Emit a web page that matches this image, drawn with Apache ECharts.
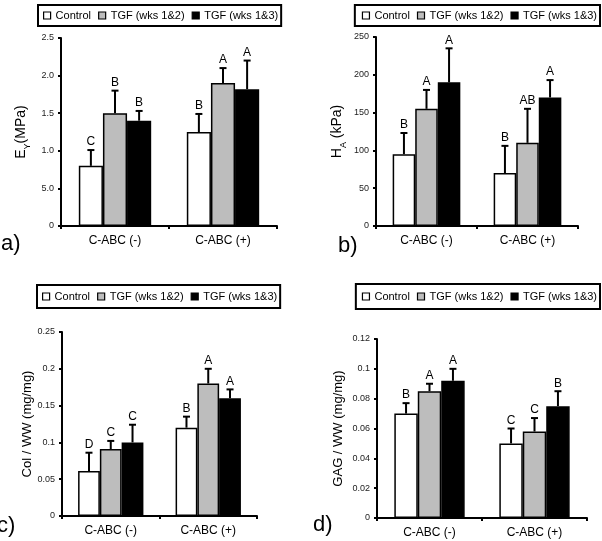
<!DOCTYPE html>
<html><head><meta charset="utf-8">
<script src="https://cdn.jsdelivr.net/npm/echarts@6/dist/echarts.min.js"></script>
<style>html,body{margin:0;padding:0;background:#fff}#c{width:602px;height:541px}</style>
</head><body><div id="c"></div>
<script>
// ---------- data ----------
const categories = ['C-ABC (-)', 'C-ABC (+)'];
const seriesNames = ['Control', 'TGF (wks 1&2)', 'TGF (wks 1&3)'];

// panel a) E_Y (MPa)
const aControl = [0.8, 1.25];
const aTgf12 = [1.5, 1.9];
const aTgf13 = [1.4, 1.82];
const aControlErr = [0.21, 0.24];
const aTgf12Err = [0.3, 0.2];
const aTgf13Err = [0.13, 0.38];
const aControlLetters = ['C', 'B'];
const aTgf12Letters = ['B', 'A'];
const aTgf13Letters = ['B', 'A'];
const aTicks = ['0', '5.0', '1.0', '1.5', '2.0', '2.5'];

// panel b) H_A (kPa)
const bControl = [95, 70];
const bTgf12 = [155, 110];
const bTgf13 = [190, 170];
const bControlErr = [28, 36];
const bTgf12Err = [25, 45];
const bTgf13Err = [45, 23];
const bControlLetters = ['B', 'B'];
const bTgf12Letters = ['A', 'AB'];
const bTgf13Letters = ['A', 'A'];
const bTicks = ['0', '50', '100', '150', '200', '250'];

// panel c) Col / WW (mg/mg)
const cControl = [0.061, 0.12];
const cTgf12 = [0.091, 0.18];
const cTgf13 = [0.1, 0.16];
const cControlErr = [0.025, 0.015];
const cTgf12Err = [0.011, 0.02];
const cTgf13Err = [0.024, 0.012];
const cControlLetters = ['D', 'B'];
const cTgf12Letters = ['C', 'A'];
const cTgf13Letters = ['C', 'A'];
const cTicks = ['0', '0.05', '0.1', '0.15', '0.2', '0.25'];

// panel d) GAG / WW (mg/mg)
const dControl = [0.07, 0.05];
const dTgf12 = [0.085, 0.058];
const dTgf13 = [0.092, 0.075];
const dControlErr = [0.007, 0.01];
const dTgf12Err = [0.005, 0.009];
const dTgf13Err = [0.008, 0.01];
const dControlLetters = ['B', 'C'];
const dTgf12Letters = ['A', 'C'];
const dTgf13Letters = ['A', 'B'];
const dTicks = ['0', '0.02', '0.04', '0.06', '0.08', '0.1', '0.12'];

// ---------- build ----------
const FONT = '"Liberation Sans", Arial, sans-serif';
const colors = ['#ffffff', '#bdbdbd', '#000000'];
const GAP = 0.33;

const panels = [
  { vals: [aControl, aTgf12, aTgf13], errs: [aControlErr, aTgf12Err, aTgf13Err],
    letters: [aControlLetters, aTgf12Letters, aTgf13Letters], ticks: aTicks, max: 2.5, interval: 0.5,
    name: '{n|E}{s|Y}{n|(MPa)}', nameSize: 14, nameGap: 29,
    grid: { left: 61, top: 38, width: 216, height: 188 },
    legend: { left: 38, top: 5, padding: [5, 3, 5, 5] },
    tag: { text: 'a)', x: 1, y: 246 } },
  { vals: [bControl, bTgf12, bTgf13], errs: [bControlErr, bTgf12Err, bTgf13Err],
    letters: [bControlLetters, bTgf12Letters, bTgf13Letters], ticks: bTicks, max: 250, interval: 50,
    name: '{n|H}{s|A}{n| (kPa)}', nameSize: 14, nameGap: 28,
    grid: { left: 376, top: 37, width: 202, height: 189 },
    legend: { right: 2, top: 5, padding: [5, 3, 5, 7] },
    tag: { text: 'b)', x: 338, y: 248 } },
  { vals: [cControl, cTgf12, cTgf13], errs: [cControlErr, cTgf12Err, cTgf13Err],
    letters: [cControlLetters, cTgf12Letters, cTgf13Letters], ticks: cTicks, max: 0.25, interval: 0.05,
    name: 'Col / WW (mg/mg)', nameSize: 13, nameGap: 24,
    grid: { left: 62, top: 332, width: 195, height: 184 },
    legend: { left: 37, top: 285, padding: [6, 3, 6, 5] },
    tag: { text: 'c)', x: -3, y: 528 } },
  { vals: [dControl, dTgf12, dTgf13], errs: [dControlErr, dTgf12Err, dTgf13Err],
    letters: [dControlLetters, dTgf12Letters, dTgf13Letters], ticks: dTicks, max: 0.12, interval: 0.02,
    name: 'GAG / WW (mg/mg)', nameSize: 13, nameGap: 32,
    grid: { left: 377, top: 339, width: 210, height: 179 },
    legend: { right: 2, top: 284, padding: [7, 3, 7, 6] },
    tag: { text: 'd)', x: 313, y: 527 } }
];

const option = {
  backgroundColor: '#fff',
  animation: false,
  textStyle: { fontFamily: FONT },
  grid: [], xAxis: [], yAxis: [], series: [], legend: [], graphic: []
};

panels.forEach((p, i) => {
  option.grid.push(Object.assign({ containLabel: false }, p.grid));
  option.xAxis.push({
    type: 'category', gridIndex: i, data: categories, boundaryGap: true,
    axisLine: { lineStyle: { color: '#000', width: 2 } },
    axisTick: { show: true, length: 3, lineStyle: { color: '#000', width: 2 } },
    axisLabel: { color: '#000', fontSize: 12, fontFamily: FONT, margin: 9 },
    splitLine: { show: false }
  });
  option.yAxis.push({
    type: 'value', gridIndex: i, min: 0, max: p.max, interval: p.interval,
    name: p.name, nameLocation: 'middle', nameGap: p.nameGap,
    nameTextStyle: {
      color: '#000', fontSize: p.nameSize, fontFamily: FONT,
      rich: {
        n: { fontSize: p.nameSize, fontFamily: FONT, color: '#000', padding: [0, 0, 4, 0] },
        s: { fontSize: 9, fontFamily: FONT, color: '#000', verticalAlign: 'bottom' }
      }
    },
    axisLine: { show: true, lineStyle: { color: '#000', width: 2 } },
    axisTick: { show: true, length: 3, lineStyle: { color: '#000', width: 2 } },
    axisLabel: {
      color: '#222', fontSize: 9, fontFamily: FONT, margin: 7,
      formatter: (v) => { const k = Math.round(v / p.interval); return p.ticks[k] !== undefined ? p.ticks[k] : ''; }
    },
    splitLine: { show: false }
  });
  seriesNames.forEach((nm, k) => {
    option.series.push({
      type: 'bar', name: nm, xAxisIndex: i, yAxisIndex: i, data: p.vals[k],
      barGap: '0%', barCategoryGap: (GAP * 100) + '%',
      itemStyle: { color: colors[k], borderColor: '#000', borderWidth: 1.5 },
      emphasis: { disabled: true }, z: 2
    });
  });
  // error bars + significance letters
  const errData = [];
  const errLetters = [];
  seriesNames.forEach((nm, k) => {
    categories.forEach((c, j) => {
      errData.push([j, p.vals[k][j], p.vals[k][j] + p.errs[k][j], k]);
      errLetters.push(p.letters[k][j]);
    });
  });
  option.series.push({
    type: 'custom', xAxisIndex: i, yAxisIndex: i, data: errData, clip: false, z: 5,
    encode: { x: 0, y: 2 }, silent: true,
    renderItem: (params, api) => {
      const cat = api.value(0), v = api.value(1), top = api.value(2), k = api.value(3);
      const catW = api.size([1, 0])[0];
      const bw = catW * (1 - GAP) / 3;
      const cx = api.coord([cat, 0])[0] + (k - 1) * bw;
      const y0 = api.coord([cat, v])[1];
      const y1 = api.coord([cat, top])[1];
      const ls = { stroke: '#000', lineWidth: 2 };
      return {
        type: 'group',
        children: [
          { type: 'line', shape: { x1: cx, y1: y0, x2: cx, y2: y1 }, style: ls },
          { type: 'line', shape: { x1: cx - 3.5, y1: y1, x2: cx + 3.5, y2: y1 }, style: ls },
          { type: 'text', style: { text: errLetters[params.dataIndex], x: cx, y: y1 - 2,
            align: 'center', verticalAlign: 'bottom', fill: '#000',
            font: '12px ' + FONT } }
        ]
      };
    }
  });
  option.legend.push(Object.assign({
    data: seriesNames, padding: p.legend.padding, width: 260,
    orient: 'horizontal', icon: 'rect', itemWidth: 7, itemHeight: 7, itemGap: 7,
    selectedMode: false, borderColor: '#000', borderWidth: 2, backgroundColor: '#fff',
    itemStyle: { borderColor: '#000', borderWidth: 1.2 },
    textStyle: { color: '#000', fontSize: 11, fontFamily: FONT }
  }, p.legend.left !== undefined ? { left: p.legend.left } : { right: p.legend.right }, { top: p.legend.top }));
  option.graphic.push({
    type: 'text', left: p.tag.x, top: p.tag.y - 13,
    style: { text: p.tag.text, fill: '#000', font: '22px ' + FONT }
  });
});

const chart = echarts.init(document.getElementById('c'), null, { renderer: 'canvas' });
chart.setOption(option);
</script>
</body></html>
